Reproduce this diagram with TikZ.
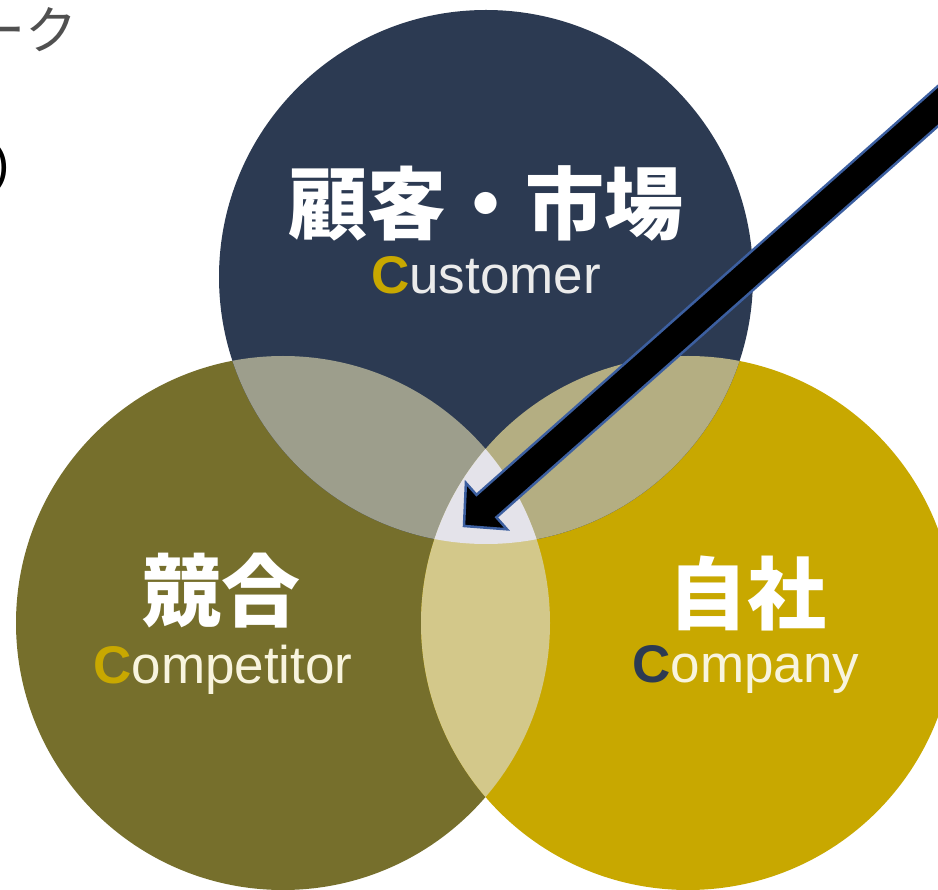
\documentclass[tikz,border=0pt]{standalone}
\usepackage{fontspec}
\usepackage{tikz}
\usetikzlibrary{calc}
\newfontfamily\jpfont{Noto Sans CJK JP}
\newfontfamily\enfont{Liberation Sans}
\definecolor{cnavy}{RGB}{44,58,82}
\definecolor{colive}{RGB}{118,111,44}
\definecolor{cgold}{RGB}{200,168,0}
\definecolor{cTL}{RGB}{157,158,140}
\definecolor{cTR}{RGB}{180,174,130}
\definecolor{cLR}{RGB}{211,200,138}
\definecolor{cTLR}{RGB}{228,227,234}
\definecolor{cgrey}{RGB}{80,80,80}
\definecolor{cblue}{RGB}{60,95,160}
\definecolor{ccream}{RGB}{248,244,222}

\begin{document}
\begin{tikzpicture}[x=1pt, y=-1pt,
        jp/.style={inner sep=0pt, text=white, font=\jpfont\bfseries\fontsize{79}{79}\selectfont},
        en/.style={inner sep=0pt, anchor=base, font=\enfont\fontsize{53}{53}\selectfont},
        arrowline/.style={draw=cblue, fill=black, line width=2.5pt, line join=miter}]
        \def\crad{267pt}
        \useasboundingbox (0,0) rectangle (938,890);
        \clip (0,0) rectangle (938,890);
        \fill[white] (0,0) rectangle (938,890);

        % Circle centres
        \coordinate (T) at (486,277);
        \coordinate (L) at (283,623);
        \coordinate (R) at (688,623);

        % Circles
        \fill[colive] (L) circle[radius=\crad];
        \fill[cgold] (R) circle[radius=\crad];
        \fill[cnavy] (T) circle[radius=\crad];

        % Overlaps
        \begin{scope}
            \clip (R) circle[radius=\crad];
            \fill[cTR] (T) circle[radius=\crad];
        \end{scope}
        \begin{scope}
            \clip (L) circle[radius=\crad];
            \fill[cTL] (T) circle[radius=\crad];
            \fill[cLR] (R) circle[radius=\crad];
            \clip (R) circle[radius=\crad];
            \fill[cTLR] (T) circle[radius=\crad];
        \end{scope}

        % Labels
        \node[jp] (Tjp) at (486,203) {顧客・市場};
        \node[en, text=white!92!black] (Ten) at (486,294) {{\bfseries\color{cgold}C}ustomer};
        \node[jp] (Ljp) at (221,591) {競合};
        \node[en, text=ccream] (Len) at (223,683) {{\bfseries\color{cgold}C}ompetitor};
        \node[jp] (Rjp) at (747,593) {自社};
        \node[en, text=ccream] (Ren) at (746,682) {{\bfseries\color{cnavy}C}ompany};

        % Cut-off text at the left edge
        \node[anchor=east, inner sep=0pt, text=cgrey, font=\jpfont\fontsize{52}{52}\selectfont] (cut) at (78,30) {ーク};
        \node[anchor=east, inner sep=0pt, font=\enfont\fontsize{52}{52}\selectfont] (paren) at (10,168) {)};

        % Arrow
        \coordinate (core) at (464,526);
        \coordinate (tail) at (990,60);
        \coordinate (hb) at ($(core)!30pt!(tail)$);
        \draw[arrowline] (core) -- ($(hb)!31pt!90:(tail)$) -- ($(hb)!15pt!90:(tail)$)
            -- ($(tail)!15pt!-90:(core)$) -- ($(tail)!15pt!90:(core)$)
            -- ($(hb)!15pt!-90:(tail)$) -- ($(hb)!31pt!-90:(tail)$) -- cycle;
    \end{tikzpicture}
\end{document}
